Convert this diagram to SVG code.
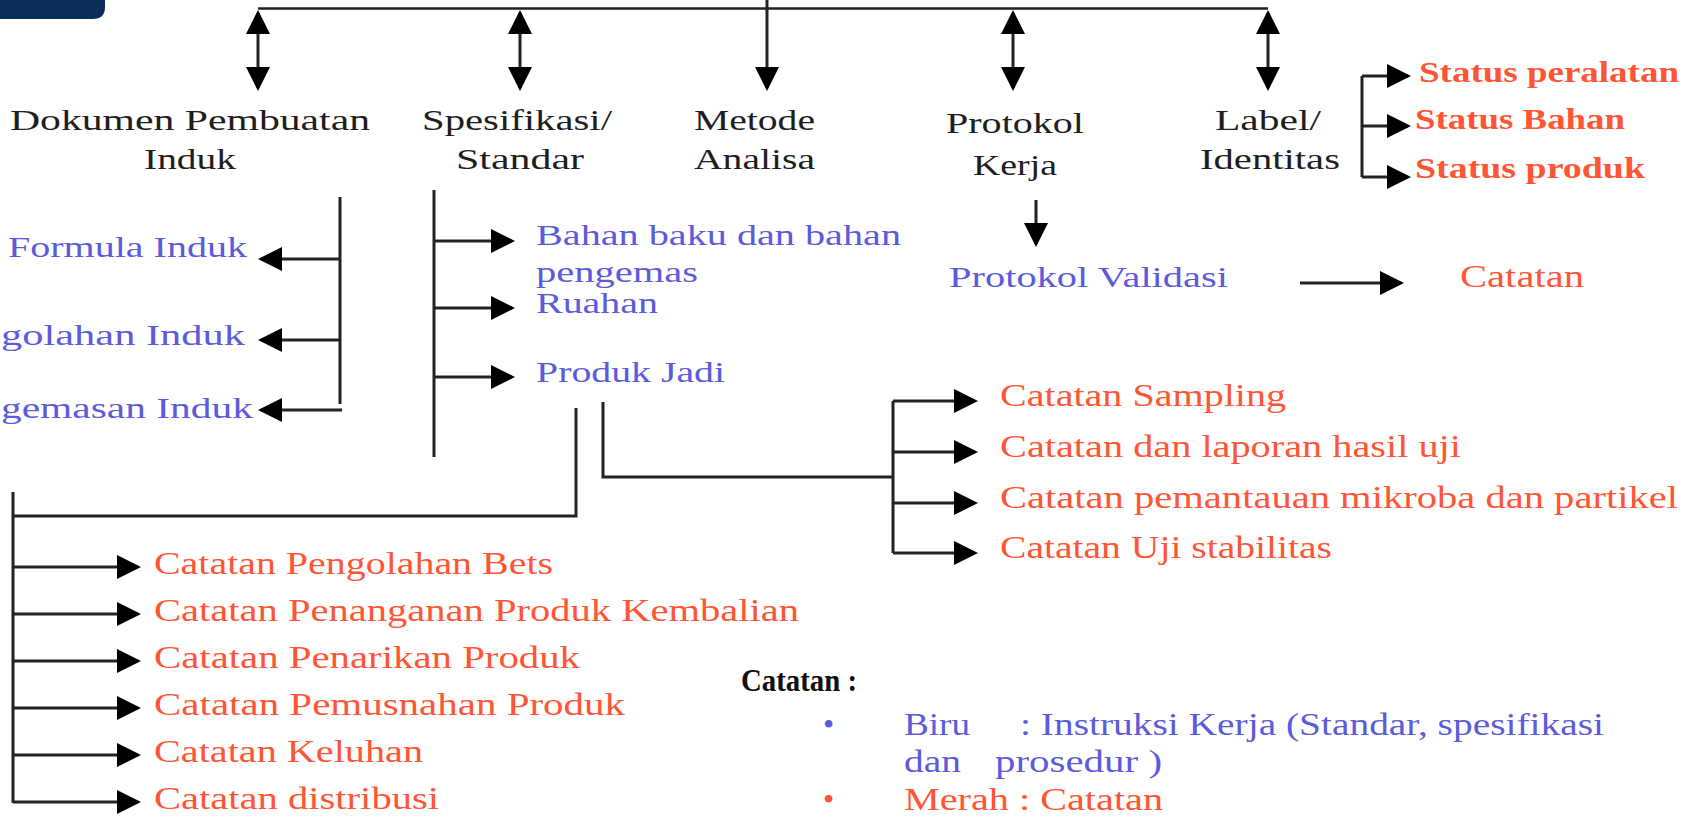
<svg xmlns="http://www.w3.org/2000/svg" width="1685" height="822" viewBox="0 0 1685 822">
<defs>
<marker id="ah" viewBox="0 0 24 24" markerWidth="24" markerHeight="24" refX="21" refY="12" orient="auto-start-reverse" markerUnits="userSpaceOnUse">
<path d="M0,0 L24,12 L0,24 Z" fill="#000"/>
</marker>
</defs>
<style>
text{font-family:"Liberation Serif","Times New Roman",serif;}
.h{font-size:30px;fill:#1e1e1e;}
.b{font-size:30px;fill:#5b5bdc;}
.r{font-size:32px;fill:#ff5535;}
.s{font-size:30px;fill:#ff5535;font-weight:bold;}
.l{font-size:32px;}
.c line,.c path{stroke:#222;stroke-width:3;fill:none;}
.a{marker-end:url(#ah);}
.d{marker-start:url(#ah);marker-end:url(#ah);}
</style>
<rect width="1685" height="822" fill="#fff"/>
<path d="M0,0 H105 V7 Q105,19 93,19 H0 Z" fill="#0c2d5a"/>

<g id="connectors" class="c">
<path d="M258,8.5 H1268" style="stroke-width:2.5"/>
<line x1="258" y1="13" x2="258" y2="88" class="d"/>
<line x1="520" y1="13" x2="520" y2="88" class="d"/>
<line x1="767" y1="0" x2="767" y2="88" class="a"/>
<line x1="1013" y1="13" x2="1013" y2="88" class="d"/>
<line x1="1268" y1="13" x2="1268" y2="88" class="d"/>
<!-- Dokumen group -->
<path d="M340,197 V404"/>
<line x1="340" y1="259" x2="261" y2="259" class="a"/>
<line x1="340" y1="340" x2="261" y2="340" class="a"/>
<line x1="342" y1="410" x2="261" y2="410" class="a"/>
<!-- Spesifikasi group -->
<path d="M434,190 V457"/>
<line x1="434" y1="241" x2="512" y2="241" class="a"/>
<line x1="434" y1="308" x2="512" y2="308" class="a"/>
<line x1="434" y1="377" x2="512" y2="377" class="a"/>
<!-- Produk Jadi to bottom list -->
<path d="M576,408 V516 H13"/>
<path d="M13,492 V803"/>
<line x1="13" y1="567" x2="138" y2="567" class="a"/>
<line x1="13" y1="614" x2="138" y2="614" class="a"/>
<line x1="13" y1="661" x2="138" y2="661" class="a"/>
<line x1="13" y1="708" x2="138" y2="708" class="a"/>
<line x1="13" y1="755" x2="138" y2="755" class="a"/>
<line x1="13" y1="802" x2="138" y2="802" class="a"/>
<!-- Produk Jadi to right list -->
<path d="M603,402 V477 H893"/>
<path d="M893,401 V553"/>
<line x1="893" y1="401" x2="975" y2="401" class="a"/>
<line x1="893" y1="452" x2="975" y2="452" class="a"/>
<line x1="893" y1="503" x2="975" y2="503" class="a"/>
<line x1="893" y1="553" x2="975" y2="553" class="a"/>
<!-- Protokol -->
<line x1="1036" y1="200" x2="1036" y2="244" class="a"/>
<line x1="1300" y1="283" x2="1401" y2="283" class="a"/>
<!-- Status -->
<path d="M1362,76 V177"/>
<line x1="1362" y1="76" x2="1408" y2="76" class="a"/>
<line x1="1362" y1="126" x2="1408" y2="126" class="a"/>
<line x1="1362" y1="177" x2="1408" y2="177" class="a"/>
</g>

<g id="dokumen"><text class="h" x="10" y="130" textLength="360" lengthAdjust="spacingAndGlyphs">Dokumen Pembuatan</text><text class="h" x="144" y="169" textLength="92" lengthAdjust="spacingAndGlyphs">Induk</text></g>
<g id="spesifikasi"><text class="h" x="422" y="130" textLength="190" lengthAdjust="spacingAndGlyphs">Spesifikasi/</text><text class="h" x="456" y="169" textLength="128" lengthAdjust="spacingAndGlyphs">Standar</text></g>
<g id="metode"><text class="h" x="694" y="130" textLength="121" lengthAdjust="spacingAndGlyphs">Metode</text><text class="h" x="694" y="169" textLength="121" lengthAdjust="spacingAndGlyphs">Analisa</text></g>
<g id="protokol"><text class="h" x="946" y="133" textLength="138" lengthAdjust="spacingAndGlyphs">Protokol</text><text class="h" x="973" y="175" textLength="84" lengthAdjust="spacingAndGlyphs">Kerja</text></g>
<g id="label"><text class="h" x="1215" y="130" textLength="106" lengthAdjust="spacingAndGlyphs">Label/</text><text class="h" x="1200" y="169" textLength="140" lengthAdjust="spacingAndGlyphs">Identitas</text></g>

<g id="status-peralatan"><text class="s" x="1419" y="82" textLength="260" lengthAdjust="spacingAndGlyphs">Status peralatan</text></g>
<g id="status-bahan"><text class="s" x="1415" y="129" textLength="210" lengthAdjust="spacingAndGlyphs">Status Bahan</text></g>
<g id="status-produk"><text class="s" x="1415" y="178" textLength="230" lengthAdjust="spacingAndGlyphs">Status produk</text></g>

<g id="formula-induk"><text class="b" x="8" y="257" textLength="239" lengthAdjust="spacingAndGlyphs">Formula Induk</text></g>
<g id="pengolahan-induk"><text class="b" x="1" y="345" textLength="244" lengthAdjust="spacingAndGlyphs">golahan  Induk</text></g>
<g id="pengemasan-induk"><text class="b" x="1" y="418" textLength="252" lengthAdjust="spacingAndGlyphs">gemasan Induk</text></g>

<g id="bahan-baku"><text class="b" x="536" y="245" textLength="365" lengthAdjust="spacingAndGlyphs">Bahan baku dan bahan</text><text class="b" x="536" y="282" textLength="162" lengthAdjust="spacingAndGlyphs">pengemas</text></g>
<g id="ruahan"><text class="b" x="536" y="313" textLength="122" lengthAdjust="spacingAndGlyphs">Ruahan</text></g>
<g id="produk-jadi"><text class="b" x="536" y="382" textLength="189" lengthAdjust="spacingAndGlyphs">Produk Jadi</text></g>

<g id="protokol-validasi"><text class="b" x="949" y="287" textLength="279" lengthAdjust="spacingAndGlyphs">Protokol Validasi</text></g>
<g id="catatan-validasi"><text class="r" x="1460" y="287" textLength="124" lengthAdjust="spacingAndGlyphs">Catatan</text></g>

<g id="catatan-sampling"><text class="r" x="1000" y="406" textLength="286" lengthAdjust="spacingAndGlyphs">Catatan Sampling</text></g>
<g id="catatan-laporan"><text class="r" x="1000" y="457" textLength="461" lengthAdjust="spacingAndGlyphs">Catatan dan laporan hasil uji</text></g>
<g id="catatan-pemantauan"><text class="r" x="1000" y="508" textLength="678" lengthAdjust="spacingAndGlyphs">Catatan pemantauan mikroba dan partikel</text></g>
<g id="catatan-stabilitas"><text class="r" x="1000" y="558" textLength="332" lengthAdjust="spacingAndGlyphs">Catatan Uji stabilitas</text></g>

<g id="catatan-bets"><text class="r" x="154" y="574" textLength="399" lengthAdjust="spacingAndGlyphs">Catatan Pengolahan Bets</text></g>
<g id="catatan-kembalian"><text class="r" x="154" y="621" textLength="645" lengthAdjust="spacingAndGlyphs">Catatan Penanganan Produk Kembalian</text></g>
<g id="catatan-penarikan"><text class="r" x="154" y="668" textLength="426" lengthAdjust="spacingAndGlyphs">Catatan Penarikan Produk</text></g>
<g id="catatan-pemusnahan"><text class="r" x="154" y="715" textLength="471" lengthAdjust="spacingAndGlyphs">Catatan Pemusnahan Produk</text></g>
<g id="catatan-keluhan"><text class="r" x="154" y="762" textLength="269" lengthAdjust="spacingAndGlyphs">Catatan Keluhan</text></g>
<g id="catatan-distribusi"><text class="r" x="154" y="809" textLength="285" lengthAdjust="spacingAndGlyphs">Catatan distribusi</text></g>

<g id="legend">
<text class="l" x="741" y="691" font-weight="bold" fill="#111" textLength="116" lengthAdjust="spacingAndGlyphs">Catatan :</text>
<text class="l" x="823" y="735" fill="#5b5bdc">•</text>
<text class="l" y="735" fill="#5b5bdc"><tspan x="904" textLength="66" lengthAdjust="spacingAndGlyphs">Biru</tspan><tspan x="1020" textLength="584" lengthAdjust="spacingAndGlyphs">: Instruksi Kerja (Standar, spesifikasi</tspan></text>
<text class="l" y="772" fill="#5b5bdc"><tspan x="904" textLength="57" lengthAdjust="spacingAndGlyphs">dan</tspan><tspan x="995" textLength="167" lengthAdjust="spacingAndGlyphs">prosedur )</tspan></text>
<text class="l" x="823" y="810" fill="#ff5535">•</text>
<text class="l" x="904" y="810" fill="#ff5535" textLength="259" lengthAdjust="spacingAndGlyphs">Merah : Catatan</text>
</g>
</svg>
